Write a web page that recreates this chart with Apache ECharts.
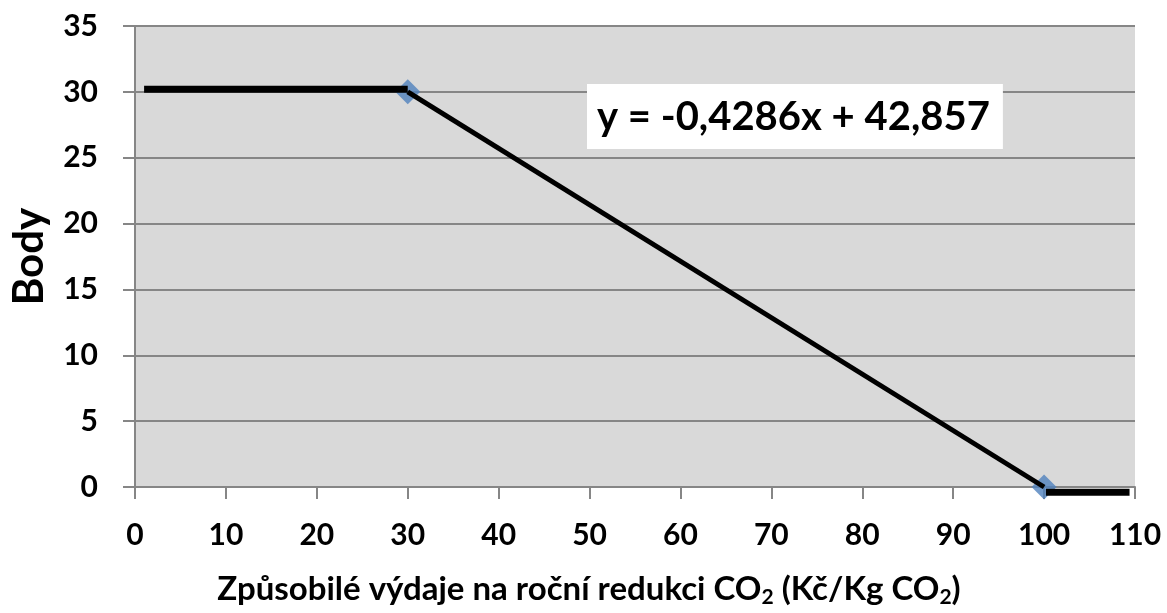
<!DOCTYPE html>
<html>
<head>
<meta charset="utf-8">
<script src="https://cdn.jsdelivr.net/npm/echarts@6/dist/echarts.min.js"></script>
<style>
  html, body { margin: 0; padding: 0; background: #fff; }
  #chart { width: 1167px; height: 613px; }
</style>
</head>
<body>
<div id="chart"></div>
<script>
// data
var flatPart = [[1, 30.2], [30, 30.2]];        // plný počet bodů
var slopePart = [[30, 30], [100, 0]];          // lineární pokles
var zeroPart = [[100.2, -0.4], [109.4, -0.4]]; // nula bodů
var knots = [[30, 30], [100, 0]];              // body lomu (modré kosočtverce)
var equation = 'y = -0,4286x + 42,857';

var font = 'Lato, "Open Sans", sans-serif';
var gray = '#868686';

var chart = echarts.init(document.getElementById('chart'));

function lineSeries(data, width) {
    return {
        type: 'line',
        data: data,
        symbol: 'none',
        clip: false,
        z: 5,
        lineStyle: {color: '#000', width: width}
    };
}

var option = {
    animation: false,
    backgroundColor: '#fff',
    grid: {left: 135, right: 32, top: 26, bottom: 123, backgroundColor: '#d9d9d9', show: true, borderWidth: 0},
    xAxis: {
        type: 'value',
        min: 0, max: 110, interval: 10,
        name: '{t|Způsobilé výdaje na roční redukci CO}{s|2}{t| (Kč/Kg CO}{s|2}{t|)}',
        nameLocation: 'middle',
        nameGap: 84,
        nameTextStyle: {
            padding: [0, 92, 0, 0],
            rich: {
                t: {fontFamily: font, fontWeight: 'bold', fontSize: 33, color: '#000'},
                s: {fontFamily: font, fontWeight: 'bold', fontSize: 21, color: '#000', padding: [16, 0, 0, 0]}
            }
        },
        axisLine: {show: true, onZero: false, lineStyle: {color: gray, width: 2}},
        axisTick: {show: true, inside: false, length: 12, lineStyle: {color: gray, width: 2}},
        axisLabel: {margin: 33, fontFamily: font, fontWeight: 'bold', fontSize: 30, color: '#000'},
        splitLine: {show: false}
    },
    yAxis: {
        type: 'value',
        min: 0, max: 35, interval: 5,
        name: 'Body',
        nameLocation: 'middle',
        nameRotate: 90,
        nameGap: 85,
        nameTextStyle: {fontFamily: font, fontWeight: 'bold', fontSize: 42, color: '#000'},
        axisLine: {show: true, lineStyle: {color: gray, width: 2}},
        axisTick: {show: true, inside: false, length: 12, lineStyle: {color: gray, width: 2}},
        axisLabel: {margin: 37, fontFamily: font, fontWeight: 'bold', fontSize: 30, color: '#000'},
        splitLine: {show: true, lineStyle: {color: gray, width: 2}}
    },
    graphic: [{
        type: 'text',
        left: 587,
        top: 84,
        z: 10,
        style: {
            text: equation,
            fontFamily: font,
            fontWeight: 'bold',
            fontSize: 40,
            fill: '#000',
            backgroundColor: '#fff',
            padding: [13, 13, 12, 10]
        }
    }],
    series: [
        {
            type: 'scatter',
            data: knots,
            symbol: 'diamond',
            symbolSize: 25,
            z: 3,
            itemStyle: {color: '#4f81bd'}
        },
        lineSeries(flatPart, 7),
        lineSeries(slopePart, 5),
        lineSeries(zeroPart, 7)
    ]
};

chart.setOption(option);
</script>
</body>
</html>
